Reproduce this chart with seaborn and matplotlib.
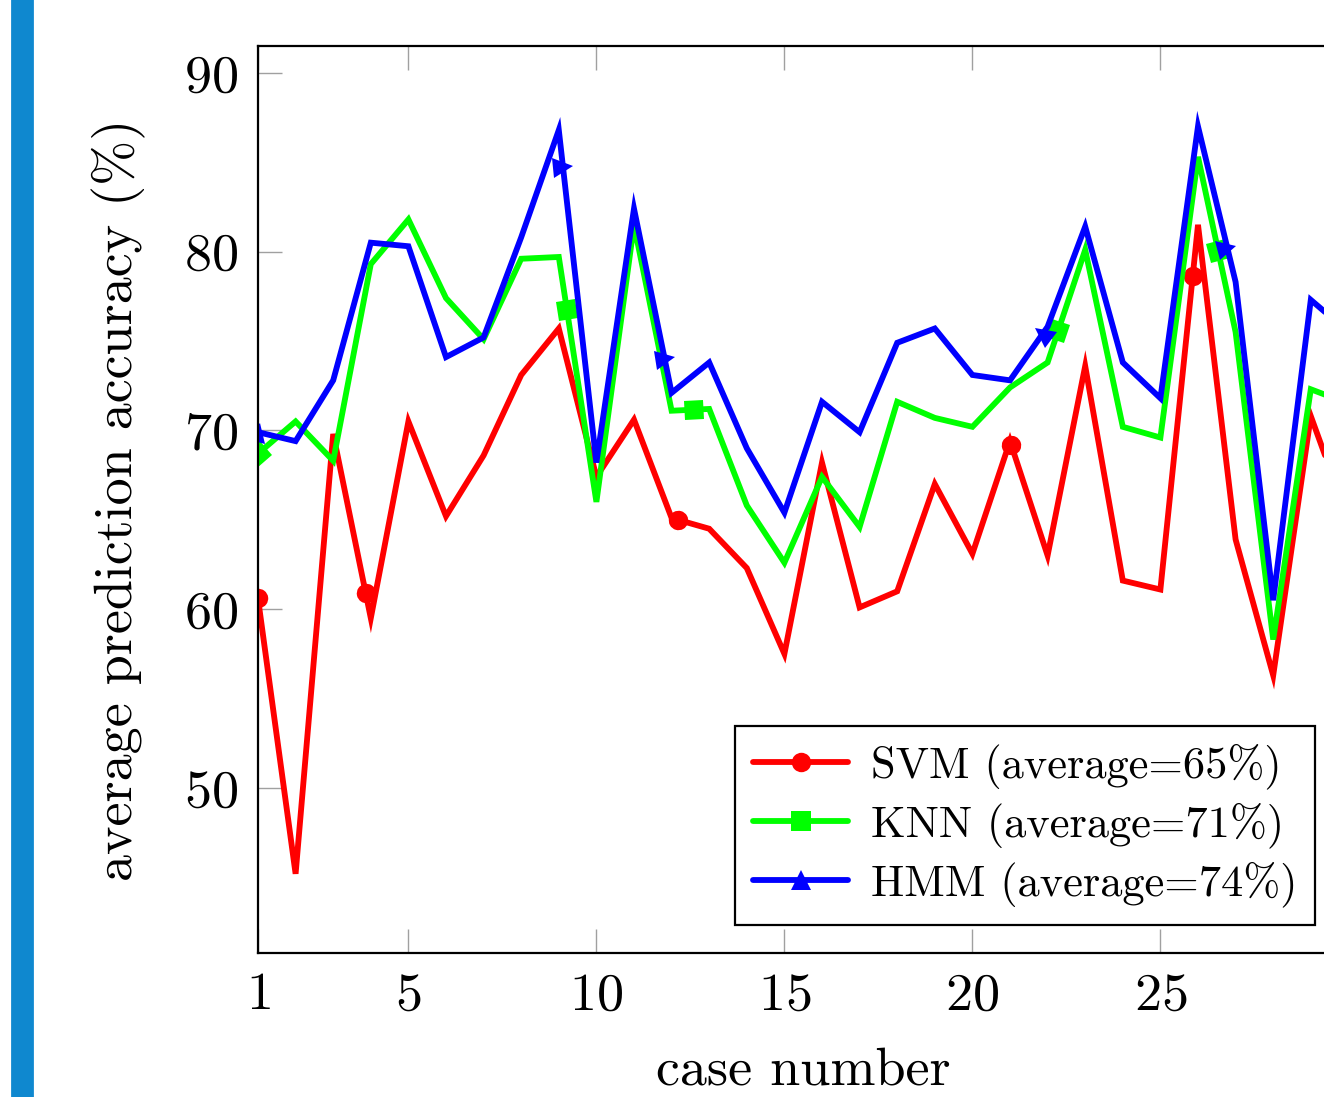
import matplotlib
matplotlib.use("Agg")
import matplotlib.pyplot as plt
from matplotlib.lines import Line2D
from matplotlib.markers import MarkerStyle
from matplotlib.patches import Rectangle
from matplotlib.transforms import Affine2D
import numpy as np
import seaborn as sns

# values
cases = list(range(1, 31))
svm = [60.6, 45.2, 69.8, 59.5, 70.5, 65.2, 68.6, 73.1, 75.7, 67.4,
       70.6, 65.1, 64.5, 62.3, 57.5, 68.2, 60.1, 61.0, 67.0, 63.1,
       69.4, 63.0, 73.6, 61.6, 61.1, 81.5, 63.9, 56.3, 70.8, 65.0]
knn = [68.7, 70.5, 68.3, 79.3, 81.8, 77.4, 75.1, 79.6, 79.7, 66.0,
       81.5, 71.1, 71.2, 65.8, 62.6, 67.4, 64.6, 71.6, 70.7, 70.2,
       72.4, 73.8, 80.1, 70.2, 69.6, 85.3, 75.5, 58.3, 72.3, 71.5]
hmm = [69.9, 69.4, 72.8, 80.5, 80.3, 74.1, 75.2, 80.8, 86.8, 68.2,
       82.4, 72.1, 73.8, 69.0, 65.4, 71.6, 69.9, 74.9, 75.7, 73.1,
       72.8, 75.8, 81.4, 73.8, 71.8, 87.0, 78.3, 60.5, 77.3, 75.5]
labels = ["SVM (average=65%)", "KNN (average=71%)", "HMM (average=74%)"]
xticks = [1, 5, 10, 15, 20, 25, 30]
yticks = [50, 60, 70, 80, 90]

sns.set_style("white")
plt.rcParams["font.family"] = ["cmr10", "DejaVu Serif"]
plt.rcParams["mathtext.fontset"] = "cm"
plt.rcParams["axes.formatter.use_mathtext"] = True
plt.rcParams["axes.unicode_minus"] = False
plt.rcParams["text.color"] = "black"
plt.rcParams["axes.labelcolor"] = "black"
plt.rcParams["xtick.labelcolor"] = "black"
plt.rcParams["ytick.labelcolor"] = "black"

W, H = 1324, 1097
fig = plt.figure(figsize=(W / 200, H / 200), dpi=200)
ax = fig.add_axes([258 / W, 1 - 953 / H, 1090.4 / W, 907 / H])
ax.set_xlim(1, 30)
ax.set_ylim(40.77, 91.5)

series = [
    (svm, "#ff0000", "o"),
    (knn, "#00ff00", "s"),
    (hmm, "#0000ff", "^"),
]


def arc_marks(xs, ys, n=5):
    # equally spaced marks along the drawn path, turned with the path
    pts = ax.transData.transform(np.column_stack([xs, ys]))
    seg = np.diff(pts, axis=0)
    seglen = np.hypot(seg[:, 0], seg[:, 1])
    cum = np.concatenate([[0.0], np.cumsum(seglen)])
    marks = []
    for t in np.arange(n) * cum[-1] / n:
        i = min(np.searchsorted(cum, t, side="right") - 1, len(seg) - 1)
        p = pts[i] + (t - cum[i]) / seglen[i] * seg[i]
        ang = np.degrees(np.arctan2(seg[i, 1], seg[i, 0]))
        marks.append((ax.transData.inverted().transform(p), ang))
    return marks


lw = 2.1
handles = []
for vals, color, mk in series:
    sns.lineplot(x=cases, y=vals, ax=ax, color=color, linewidth=lw,
                 sort=False, solid_joinstyle="miter")
    for (mx, my), ang in arc_marks(cases, vals):
        style = MarkerStyle(mk, transform=Affine2D().rotate_deg(ang))
        ax.plot([mx], [my], marker=style, color=color, markersize=7,
                markeredgewidth=0, linestyle="none")
    handles.append(Line2D([], [], color=color, linewidth=lw, marker=mk,
                          markersize=7, markeredgewidth=0))

ax.set_xticks(xticks)
ax.set_yticks(yticks)
ax.tick_params(direction="in", length=8.6, width=0.5, color="#a0a0a0",
               bottom=True, left=True, top=True, right=True,
               labelsize=19.5, pad=7)
for sp in ax.spines.values():
    sp.set_linewidth(0.8)
    sp.set_color("black")

ax.set_xlabel("case number", fontsize=19.5, labelpad=10)
ax.set_ylabel("average prediction accuracy (%)", fontsize=19.5, labelpad=14)

leg = ax.legend(handles, labels, loc="lower right",
                bbox_to_anchor=(1315 / W, 1 - 925 / H),
                bbox_transform=fig.transFigure, borderaxespad=0,
                fontsize=16, fancybox=False, framealpha=1, edgecolor="black",
                handlelength=2.15, handletextpad=0.5, labelspacing=0.3,
                borderpad=0.4)
leg.get_frame().set_linewidth(0.8)

fig.add_artist(Rectangle((12 / W, 0), 20 / W, 1, transform=fig.transFigure,
                         color="#0f88cf", zorder=10))

fig.savefig("out.png", dpi=200)
